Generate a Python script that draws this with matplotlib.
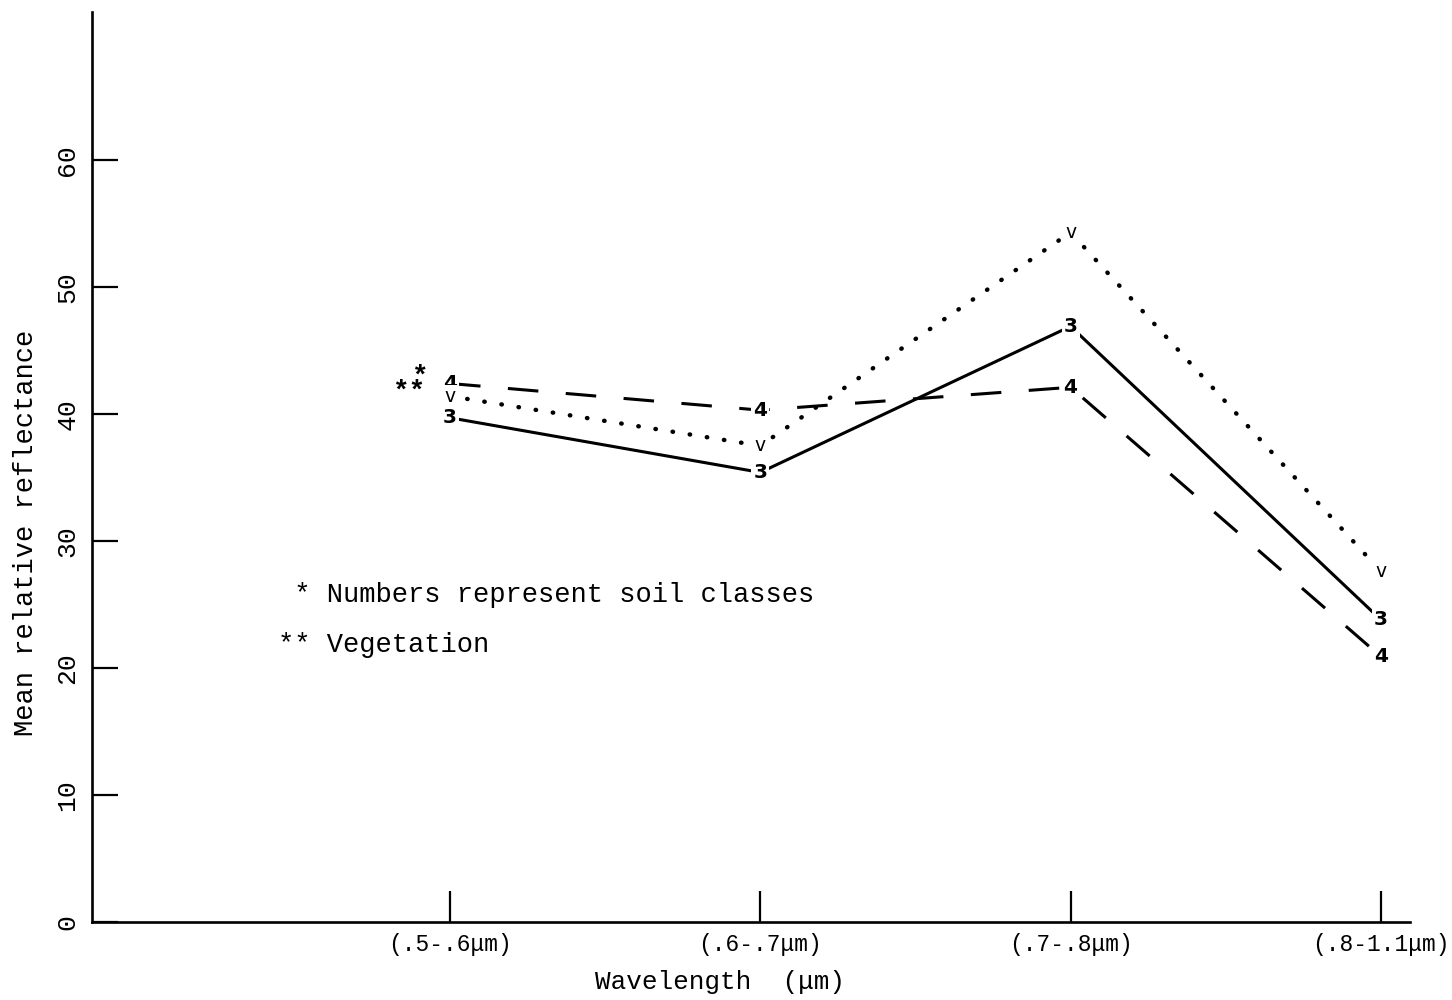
import matplotlib
matplotlib.use("Agg")
import matplotlib.pyplot as plt

categories = ["(.5-.6\u03bcm)", "(.6-.7\u03bcm)", "(.7-.8\u03bcm)", "(.8-1.1\u03bcm)"]
soil3 = [39.7, 35.4, 46.9, 23.8]
soil4 = [42.4, 40.3, 42.1, 20.9]
vegetation = [41.4, 37.5, 54.3, 27.6]
yticks = [0, 10, 20, 30, 40, 50, 60]

mono = "Liberation Mono"

fig = plt.figure(figsize=(14.52, 10.0), dpi=100)
ax = fig.add_axes([92/1452, 0.078, 1318/1452, 0.910])
x = list(range(len(categories)))

ax.plot(x, soil3, color="black", lw=2.2, solid_capstyle="round", zorder=2)
ax.plot(x, soil4, color="black", lw=2.2, linestyle=(0, (10, 9)), zorder=2)
ax.plot(x, vegetation, color="black", lw=3.2, linestyle=(0, (0.1, 3.8)),
        dash_capstyle="round", zorder=2)

box = dict(facecolor="white", edgecolor="none", pad=1.5)
for xi, v in zip(x, soil3):
    ax.text(xi, v, "3", ha="center", va="center", fontsize=14.5, fontweight="bold",
            family="DejaVu Sans", bbox=box, zorder=3)
for xi, v in zip(x, soil4):
    ax.text(xi, v, "4", ha="center", va="center", fontsize=14.5, fontweight="bold",
            family="DejaVu Sans", bbox=box, zorder=3)
for xi, v in zip(x, vegetation):
    ax.text(xi, v, "v", ha="center", va="center", fontsize=13.5,
            family="DejaVu Sans", bbox=box, zorder=3)

ax.annotate("*", xy=(0, soil4[0]), xytext=(-22, 5), textcoords="offset points",
            ha="center", va="center", fontsize=20, fontweight="bold", family=mono)
ax.annotate("**", xy=(0, vegetation[0]), xytext=(-30, 3), textcoords="offset points",
            ha="center", va="center", fontsize=20, fontweight="bold", family=mono)

ax.text((278-92)/1318, (922-595)/910, " * Numbers represent soil classes",
        transform=ax.transAxes, ha="left", va="center", fontsize=19.5, family=mono)
ax.text((278-92)/1318, (922-645)/910, "** Vegetation",
        transform=ax.transAxes, ha="left", va="center", fontsize=19.5, family=mono)

ax.set_xlim(-1.154, 3.094)
ax.set_ylim(0, 71.65)
ax.set_xticks(x)
ax.set_xticklabels(categories, fontsize=16.5, family=mono)
ax.set_yticks(yticks)
ax.set_yticklabels([str(t) for t in yticks], fontsize=19, family=mono,
                   rotation=90, va="center")

ax.tick_params(axis="x", direction="in", length=22, width=1.6, pad=8)
ax.tick_params(axis="y", direction="in", length=19, width=1.6, pad=9)

for s in ["top", "right"]:
    ax.spines[s].set_visible(False)
for s in ["left", "bottom"]:
    ax.spines[s].set_linewidth(1.9)

ax.set_xlabel("Wavelength  (\u03bcm)", fontsize=18.7, family=mono, va="center")
ax.xaxis.set_label_coords((720-92)/1318, -(982-922)/910)
ax.set_ylabel("Mean relative reflectance", fontsize=19.5, family=mono, va="center")
ax.yaxis.set_label_coords(-(92-26)/1318, (922-533)/910)

fig.savefig("out.png", dpi=100)
